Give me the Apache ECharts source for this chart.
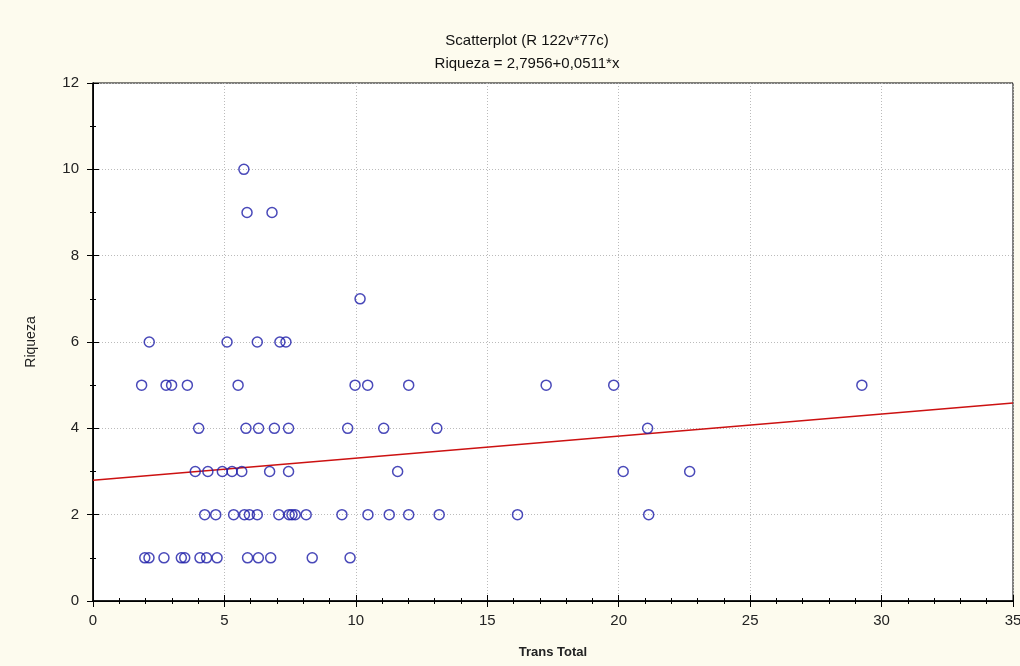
<!DOCTYPE html>
<html>
<head>
<meta charset="utf-8">
<script src="https://cdn.jsdelivr.net/npm/echarts@6/dist/echarts.min.js"></script>
<style>html,body{margin:0;padding:0;background:#fdfbee;}#c{width:1020px;height:666px;}</style>
</head>
<body>
<div id="c"></div>
<script>
// Trans Total (x) values grouped by Riqueza (y) level
const riquezaLevels = [10, 9, 7, 6, 5, 4, 3, 2, 1];
const transByLevel = [
  [5.74],
  [5.86, 6.81],
  [10.16],
  [2.14, 5.10, 6.25, 7.11, 7.34],
  [1.85, 2.78, 2.99, 3.59, 5.52, 9.97, 10.45, 12.01, 17.24, 19.81, 29.25],
  [4.02, 5.82, 6.30, 6.90, 7.44, 9.69, 11.06, 13.08, 21.10],
  [3.89, 4.37, 4.92, 5.29, 5.66, 6.72, 7.44, 11.59, 20.17, 22.70],
  [4.25, 4.67, 5.35, 5.76, 5.95, 6.25, 7.07, 7.46, 7.57, 7.69, 8.11, 9.47, 10.46, 11.27, 12.01, 13.17, 16.15, 21.14],
  [1.97, 2.13, 2.70, 3.36, 3.49, 4.07, 4.32, 4.72, 5.88, 6.29, 6.76, 8.34, 9.78]
];
// Regression line endpoints (Riqueza = 2,7956 + 0,0511*x)
const fitLine = [[0, 2.7956], [35, 4.5841]];
const xTicks = [0, 5, 10, 15, 20, 25, 30, 35];
const yTicks = [0, 2, 4, 6, 8, 10, 12];

const points = [];
riquezaLevels.forEach((lv, i) => transByLevel[i].forEach(x => points.push([x, lv])));

const font = 'Liberation Sans, Arial, sans-serif';
const chart = echarts.init(document.getElementById('c'), null, {renderer: 'canvas'});
const tickCommon = {inside: true, length: 6, lineStyle: {color: '#000'}};
const minorCommon = {inside: true, length: 3, lineStyle: {color: '#000'}};
chart.setOption({
  backgroundColor: '#fdfbee',
  animation: false,
  title: [
    {text: 'Scatterplot (R 122v*77c)', left: 522, top: 28, textAlign: 'center',
     textStyle: {fontFamily: font, fontSize: 15, fontWeight: 'normal', color: '#111'}},
    {text: 'Riqueza = 2,7956+0,0511*x', left: 522, top: 51, textAlign: 'center',
     textStyle: {fontFamily: font, fontSize: 15, fontWeight: 'normal', color: '#111'}}
  ],
  grid: {left: 93, right: 7, top: 83, bottom: 65, show: true, backgroundColor: '#ffffff',
         borderColor: '#000', borderWidth: 1, containLabel: false, outerBoundsMode: 'none'},
  xAxis: [
    {type: 'value', min: 0, max: 35, interval: 5, position: 'bottom',
     name: 'Trans Total', nameLocation: 'middle', nameGap: 45,
     nameTextStyle: {fontFamily: font, fontSize: 13, color: '#222', fontWeight: 'bold'},
     axisLine: {show: true, lineStyle: {color: '#000', width: 1.5}},
     axisTick: tickCommon,
     minorTick: Object.assign({show: true, splitNumber: 5}, minorCommon),
     axisLabel: {fontFamily: font, fontSize: 15, color: '#222', margin: 12,
       customValues: xTicks},
     splitLine: {show: true, lineStyle: {color: '#bbbbbb', type: [1, 2], width: 1}}},
    {type: 'value', min: 0, max: 35, interval: 5, position: 'top',
     axisLine: {show: true, lineStyle: {color: '#000'}},
     axisTick: tickCommon,
     minorTick: Object.assign({show: true, splitNumber: 5}, minorCommon),
     axisLabel: {show: false}, splitLine: {show: false}}
  ],
  yAxis: [
    {type: 'value', min: 0, max: 12, interval: 2, position: 'left',
     name: 'Riqueza', nameLocation: 'middle', nameGap: 55, nameRotate: 90,
     nameTextStyle: {fontFamily: font, fontSize: 14, color: '#222'},
     axisLine: {show: true, lineStyle: {color: '#000', width: 1.5}},
     axisTick: tickCommon,
     minorTick: Object.assign({show: true, splitNumber: 2}, minorCommon),
     axisLabel: {fontFamily: font, fontSize: 15, color: '#222', margin: 14,
       customValues: yTicks},
     splitLine: {show: true, lineStyle: {color: '#bbbbbb', type: [1, 2], width: 1}}},
    {type: 'value', min: 0, max: 12, interval: 2, position: 'right',
     axisLine: {show: true, lineStyle: {color: '#000'}},
     axisTick: tickCommon,
     minorTick: Object.assign({show: true, splitNumber: 2}, minorCommon),
     axisLabel: {show: false}, splitLine: {show: false}}
  ],
  series: [
    {type: 'line', data: fitLine, showSymbol: false, symbol: 'none',
     lineStyle: {color: '#cc1111', width: 1.5}, z: 2, silent: true},
    {type: 'scatter', data: points, symbol: 'circle', symbolSize: 10,
     itemStyle: {color: 'rgba(255,255,255,0)', borderColor: '#1c1ca8', borderWidth: 1.5}, z: 3}
  ]
});
</script>
</body>
</html>
